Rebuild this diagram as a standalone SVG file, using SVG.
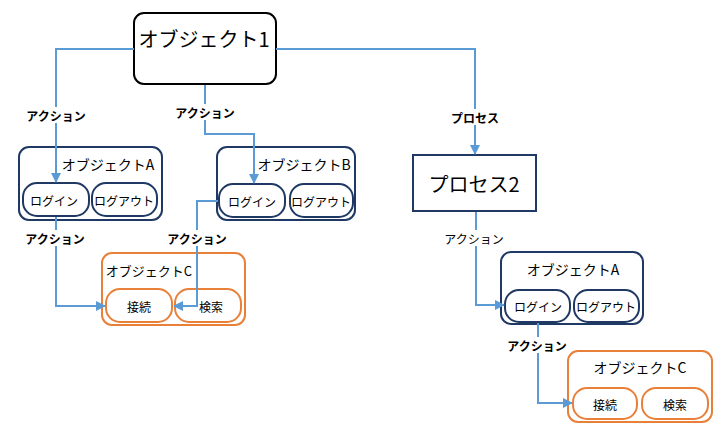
<svg xmlns="http://www.w3.org/2000/svg" width="723" height="435" viewBox="0 0 723 435">
<defs>
<marker id="ah" viewBox="0 0 10 10" refX="9" refY="5" markerWidth="5" markerHeight="5" orient="auto" markerUnits="strokeWidth">
<path d="M0,0 L10,5 L0,10 z" fill="#5B9BD5"/>
</marker>
<style>
text{font-family:"Noto Sans CJK JP","Noto Sans",sans-serif;fill:#000;text-anchor:middle;dominant-baseline:central}
.navy{fill:#fff;stroke:#1F3864;stroke-width:2}
.org{fill:#fff;stroke:#E8803A;stroke-width:2}
.conn{fill:none;stroke:#5B9BD5;stroke-width:2;marker-end:url(#ah)}
.lbl{font-size:12px;font-weight:bold}
.lblbg{fill:#fff}
.t14{font-size:14px}
.t13{font-size:13px}
.t12{font-size:12px}
.t20{font-size:20px}
</style>
</defs>
<rect width="723" height="435" fill="#fff"/>
<g id="object1">
<rect x="134" y="13" width="142" height="71" rx="10" fill="#fff" stroke="#000" stroke-width="2"/>
<text class="t20" x="204" y="38">オブジェクト1</text>
</g>
<g id="objectA-left">
<rect class="navy" x="19" y="147" width="143" height="73" rx="10"/>
<text class="t14" x="108" y="164">オブジェクトA</text>
<rect class="navy" x="23" y="183" width="66" height="33" rx="14"/>
<text class="t12" x="54" y="200">ログイン</text>
<rect class="navy" x="92" y="183" width="65" height="33" rx="14"/>
<text class="t12" x="124" y="200">ログアウト</text>
</g>
<g id="objectB">
<rect class="navy" x="217" y="147" width="138" height="73" rx="10"/>
<text class="t14" x="304" y="164">オブジェクトB</text>
<rect class="navy" x="219" y="184" width="66" height="33" rx="14"/>
<text class="t12" x="252" y="201">ログイン</text>
<rect class="navy" x="290" y="184" width="63" height="33" rx="14"/>
<text class="t12" x="321" y="201">ログアウト</text>
</g>
<g id="objectC-left">
<rect class="org" x="102" y="253" width="143" height="72" rx="10"/>
<text class="t13" x="149" y="270">オブジェクトC</text>
<rect class="org" x="106" y="289" width="66" height="33" rx="14"/>
<text class="t12" x="139" y="306">接続</text>
<rect class="org" x="175" y="289" width="66" height="33" rx="14"/>
<text class="t12" x="211" y="306">検索</text>
</g>
<g id="process2">
<rect class="navy" x="413" y="155" width="123" height="56"/>
<text class="t20" x="474" y="183">プロセス2</text>
</g>
<g id="objectA-right">
<rect class="navy" x="501" y="252" width="142" height="72" rx="10"/>
<text class="t14" x="573" y="269">オブジェクトA</text>
<rect class="navy" x="505" y="290" width="65" height="32" rx="14"/>
<text class="t12" x="538" y="306">ログイン</text>
<rect class="navy" x="574" y="290" width="65" height="32" rx="14"/>
<text class="t12" x="606" y="306">ログアウト</text>
</g>
<g id="objectC-right">
<rect class="org" x="568" y="351" width="144" height="71" rx="10"/>
<text class="t14" x="640" y="367">オブジェクトC</text>
<rect class="org" x="573" y="388" width="64" height="31" rx="14"/>
<text class="t12" x="605" y="404">接続</text>
<rect class="org" x="642" y="388" width="66" height="31" rx="14"/>
<text class="t12" x="675" y="404">検索</text>
</g>
<g id="connectors">
<path class="conn" d="M134,49 H56 V182"/>
<path class="conn" d="M205,85 V134 H254 V183"/>
<path class="conn" d="M276,49 H475 V154"/>
<path class="conn" d="M56,217 V306 H105"/>
<path class="conn" d="M218,201 H197 V306 H174"/>
<path class="conn" d="M476,212 V305 H504"/>
<path class="conn" d="M538,323 V403 H572"/>
<rect class="lblbg" x="24" y="107" width="64" height="16"/>
<text class="lbl" x="56" y="115">アクション</text>
<rect class="lblbg" x="173" y="104" width="64" height="16"/>
<text class="lbl" x="205" y="112">アクション</text>
<rect class="lblbg" x="446" y="109" width="58" height="16"/>
<text class="lbl" x="475" y="117">プロセス</text>
<rect class="lblbg" x="23" y="230" width="64" height="16"/>
<text class="lbl" x="55" y="238">アクション</text>
<rect class="lblbg" x="165" y="230" width="64" height="16"/>
<text class="lbl" x="197" y="238">アクション</text>
<rect class="lblbg" x="444" y="230" width="62" height="16"/>
<text class="t12" x="474" y="238">アクション</text>
<rect class="lblbg" x="505" y="337" width="64" height="16"/>
<text class="lbl" x="537" y="345">アクション</text>
</g>
</svg>
